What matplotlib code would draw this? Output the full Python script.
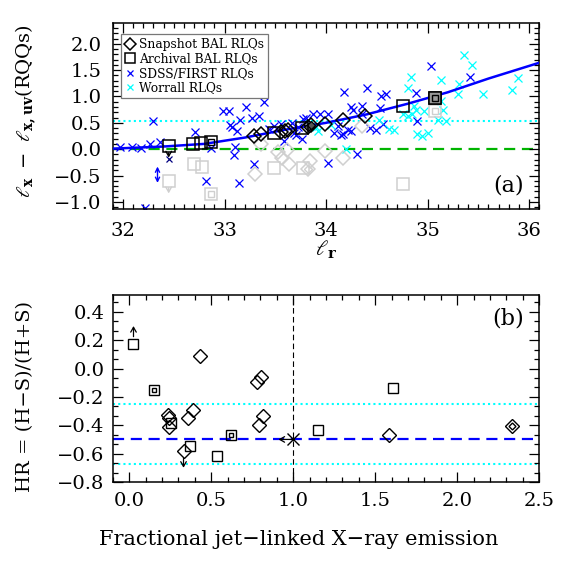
import matplotlib
matplotlib.use("Agg")
import matplotlib.pyplot as plt
from matplotlib.ticker import MultipleLocator

plt.rcParams["font.family"] = ["DejaVu Serif"]
plt.rcParams["mathtext.fontset"] = "dejavuserif"

# ---- panel (a): residual X-ray luminosity vs radio luminosity ----
snap_x = [33.29, 33.36, 33.56, 33.60, 33.63, 33.82, 33.85, 33.99, 34.17, 34.38]
snap_y = [0.25, 0.28, 0.32, 0.34, 0.37, 0.42, 0.45, 0.48, 0.55, 0.63]
snap_double = [5, 6]

arch_x = [32.45, 32.69, 32.77, 32.87, 33.49, 33.76, 34.76, 35.07]
arch_y = [0.06, 0.10, 0.12, 0.14, 0.31, 0.40, 0.81, 0.98]
arch_double = [3, 7]

# jet-subtracted (grey) versions
snap_grey_x = [33.30, 33.36, 33.53, 33.62, 33.57, 33.64, 33.84, 33.82, 33.99, 34.17, 34.35]
snap_grey_y = [-0.48, 0.10, -0.06, -0.01, -0.17, -0.29, -0.23, -0.37, -0.03, -0.17, 0.44]
snap_grey_double = [7]

arch_grey_x = [32.45, 32.70, 32.78, 32.87, 33.49, 33.77, 34.76, 35.07]
arch_grey_y = [-0.60, -0.28, -0.34, -0.86, -0.36, -0.36, -0.66, 0.72]
arch_grey_double = [3, 7]

sdss_x = [31.97, 32.09, 32.18, 32.27, 32.30, 32.36, 32.22, 32.71, 32.82, 32.87,
          32.99, 33.04, 33.21, 33.39, 33.15, 33.05, 33.07, 33.12, 33.10, 33.09,
          33.14, 33.29, 33.27, 33.34, 33.44, 33.49, 33.56, 33.59, 33.66, 33.68,
          33.70, 33.72, 33.76, 33.77, 33.80, 33.87, 33.94, 34.02, 34.08, 34.17,
          34.25, 34.43, 34.49, 34.02, 34.31, 34.18, 34.40, 34.54, 34.59, 34.25,
          34.27, 34.35, 34.53, 34.12, 34.22, 34.15, 34.56, 34.35, 34.89, 34.90,
          35.03, 35.42]
sdss_y = [0.04, 0.04, 0.02, 0.09, 0.53, 0.14, -1.12, 0.33, -0.61, 0.02,
          0.72, 0.72, 0.80, 0.90, 0.56, 0.45, 0.42, 0.34, 0.04, -0.12,
          -0.64, -0.29, 0.60, 0.63, 0.38, 0.44, 0.47, 0.15, 0.50, 0.30,
          0.26, 0.42, 0.20, 0.58, 0.60, 0.66, 0.67, 0.66, 0.31, 0.29,
          0.34, 0.40, 0.37, -0.26, -0.09, 1.09, 1.17, 1.01, 1.04, 0.80,
          0.75, 0.82, 0.79, 0.44, 0.37, 0.26, 0.47, 0.66, 1.07, 0.54,
          1.58, 1.37]

worrall_x = [35.36, 35.44, 34.84, 34.81, 35.13, 35.31, 35.30, 35.55, 35.89, 35.83,
             34.87, 34.89, 34.85, 35.13, 35.15, 35.10, 35.18, 34.97, 34.76, 34.90,
             34.95, 35.00, 34.67, 34.62, 34.52, 34.20, 33.92, 34.81, 33.85, 34.05,
             33.90]
worrall_y = [1.79, 1.59, 1.37, 1.16, 1.31, 1.24, 1.04, 1.04, 1.36, 1.12,
             0.82, 0.75, 0.66, 0.91, 0.75, 0.56, 0.54, 0.72, 0.66, 0.28,
             0.25, 0.31, 0.37, 0.38, 0.56, 0.00, 0.34, 0.63, 0.44, 0.45,
             0.42]

# limits in panel (a): (x, y_start, y_end)
lim_arch = [(32.45, 0.06, -0.16)]
lim_grey = [(32.45, -0.60, -0.84)]
lim_sdss = [(32.34, -0.33, -0.64)]
lim_sdss_end_x = [32.45]
lim_sdss_end_y = [-0.18]

fit_x = [31.9, 32.4, 32.8, 33.2, 33.6, 34.0, 34.4, 34.8, 35.2, 35.6, 36.1]
fit_y = [0.01, 0.05, 0.10, 0.22, 0.37, 0.50, 0.66, 0.86, 1.08, 1.34, 1.64]

rqq_level = 0.0
scatter_level = 0.54

# ---- panel (b): hardness ratio vs jet fraction ----
hr_snap_x = [0.433, 0.235, 0.240, 0.245, 0.357, 0.388, 0.331, 0.780, 0.805, 0.816,
             0.792, 1.582, 2.331]
hr_snap_y = [0.092, -0.325, -0.35, -0.41, -0.35, -0.29, -0.584, -0.097, -0.06, -0.337,
             -0.40, -0.466, -0.407]
hr_snap_double = [12]

hr_arch_x = [0.026, 0.149, 0.257, 0.373, 0.535, 0.623, 1.153, 1.608]
hr_arch_y = [0.176, -0.148, -0.383, -0.548, -0.62, -0.466, -0.43, -0.137]
hr_arch_double = [1, 5]

hr_cross_x = [1.0]
hr_cross_y = [-0.5]

hr_up = [(0.026, 0.176, 0.30)]
hr_down = [(0.331, -0.584, -0.70)]
hr_left = [(1.0, -0.5, 0.91)]

hr_mean = -0.5
hr_band = [-0.25, -0.67]
jet_equal = 1.0

GREY = "#cfcfcf"
BLUE = "#0000ff"
CYAN = "#00ffff"
GREEN = "#00b400"


def sub(vals, idx):
    return [vals[i] for i in idx]


fig = plt.figure(figsize=(5.67, 5.67), dpi=100)
ax1 = fig.add_axes([0.199, 0.631, 0.752, 0.328])
ax2 = fig.add_axes([0.199, 0.150, 0.752, 0.330])

# panel (a)
ax1.axhline(rqq_level, color=GREEN, ls=(0, (5, 3)), lw=1.6, zorder=1)
ax1.axhline(scatter_level, color=CYAN, ls=(0, (1, 1.5)), lw=1.5, zorder=1)

ax1.plot(sdss_x, sdss_y, "x", color=BLUE, ms=5.5, mew=0.9, zorder=2,
         label="SDSS/FIRST RLQs")
ax1.plot(worrall_x, worrall_y, "x", color=CYAN, ms=5.5, mew=0.9, zorder=2,
         label="Worrall RLQs")

ax1.plot(snap_grey_x, snap_grey_y, "D", mfc="none", mec=GREY, ms=7.5, mew=1.1, zorder=3)
ax1.plot(sub(snap_grey_x, snap_grey_double), sub(snap_grey_y, snap_grey_double), "D",
         mfc="none", mec=GREY, ms=4, mew=1.0, zorder=3)
ax1.plot(arch_grey_x, arch_grey_y, "s", mfc="none", mec=GREY, ms=8, mew=1.1, zorder=3)
ax1.plot(sub(arch_grey_x, arch_grey_double), sub(arch_grey_y, arch_grey_double), "s",
         mfc="none", mec=GREY, ms=4, mew=1.0, zorder=3)

ax1.plot(fit_x, fit_y, "-", color=BLUE, lw=1.8, zorder=4)

ax1.plot(snap_x, snap_y, "D", mfc="none", mec="black", ms=7.5, mew=1.1, zorder=5,
         label="Snapshot BAL RLQs")
ax1.plot(sub(snap_x, snap_double), sub(snap_y, snap_double), "D", mfc="#555555",
         mec="black", ms=4, mew=0.9, zorder=5)
ax1.plot(arch_x, arch_y, "s", mfc="none", mec="black", ms=8, mew=1.1, zorder=5,
         label="Archival BAL RLQs")
ax1.plot(sub(arch_x, arch_double), sub(arch_y, arch_double), "s", mfc="none",
         mec="black", ms=4, mew=1.0, zorder=5)
ax1.plot(arch_x[-1], arch_y[-1], "s", mfc="#9a9a9a", mec="black", ms=8, mew=1.1, zorder=5)
ax1.plot(arch_x[-1], arch_y[-1], "s", mfc="#9a9a9a", mec="black", ms=4, mew=1.0, zorder=6)

for x, y0, y1 in lim_arch:
    ax1.annotate("", xy=(x, y1), xytext=(x, y0), zorder=6,
                 arrowprops=dict(arrowstyle="->,head_length=0.35,head_width=0.2",
                                 color="black", lw=1.0, shrinkA=5, shrinkB=0))
for x, y0, y1 in lim_grey:
    ax1.annotate("", xy=(x, y1), xytext=(x, y0), zorder=3,
                 arrowprops=dict(arrowstyle="->,head_length=0.35,head_width=0.2",
                                 color=GREY, lw=1.0, shrinkA=5, shrinkB=0))
for x, y0, y1 in lim_sdss:
    ax1.annotate("", xy=(x, y1), xytext=(x, y0), zorder=2,
                 arrowprops=dict(arrowstyle="<->,head_length=0.3,head_width=0.15",
                                 color=BLUE, lw=1.0, shrinkA=0, shrinkB=0))
ax1.plot(lim_sdss_end_x, lim_sdss_end_y, "x", color="#000080", ms=5, mew=0.9, zorder=6)

ax1.set_xlim(31.9, 36.1)
ax1.set_ylim(-1.14, 2.39)
ax1.xaxis.set_major_locator(MultipleLocator(1))
ax1.xaxis.set_minor_locator(MultipleLocator(0.1))
ax1.yaxis.set_major_locator(MultipleLocator(0.5))
ax1.yaxis.set_minor_locator(MultipleLocator(0.1))
ax1.tick_params(axis="x", pad=9)
ax1.tick_params(axis="y", pad=8)
ax1.set_xlabel(r"$\ell_{\mathbf{r}}$", fontsize=15, labelpad=-1)
ax1.text(0.965, 0.07, "(a)", transform=ax1.transAxes, ha="right", va="bottom",
         fontsize=16)

h, l = ax1.get_legend_handles_labels()
order = [2, 3, 0, 1]
leg = ax1.legend([h[i] for i in order], [l[i] for i in order], loc="upper left",
                 bbox_to_anchor=(0.018, 0.94), fontsize=8.8, frameon=True,
                 fancybox=False, edgecolor="#777777", framealpha=1,
                 handlelength=0.9, handletextpad=0.3, labelspacing=0.12,
                 borderpad=0.3, borderaxespad=0.0, markerscale=0.85)
leg.get_frame().set_linewidth(0.9)

# panel (b)
ax2.axhline(hr_mean, color=BLUE, ls=(0, (5, 3)), lw=1.6, zorder=1)
for yb in hr_band:
    ax2.axhline(yb, color=CYAN, ls=(0, (1, 1.5)), lw=1.5, zorder=1)
ax2.axvline(jet_equal, color="black", ls=(0, (5, 3)), lw=0.8, zorder=1)

ax2.plot(hr_snap_x, hr_snap_y, "D", mfc="none", mec="black", ms=7, mew=1.0, zorder=3)
ax2.plot(sub(hr_snap_x, hr_snap_double), sub(hr_snap_y, hr_snap_double), "D",
         mfc="none", mec="black", ms=3.5, mew=1.0, zorder=3)
ax2.plot(hr_arch_x, hr_arch_y, "s", mfc="none", mec="black", ms=7.5, mew=1.0, zorder=3)
ax2.plot(sub(hr_arch_x, hr_arch_double), sub(hr_arch_y, hr_arch_double), "s",
         mfc="none", mec="black", ms=3.5, mew=1.0, zorder=3)
ax2.plot(hr_cross_x, hr_cross_y, "x", color="black", ms=8, mew=1.0, zorder=3)

for x, y0, y1 in hr_up + hr_down:
    ax2.annotate("", xy=(x, y1), xytext=(x, y0), zorder=4,
                 arrowprops=dict(arrowstyle="->,head_length=0.35,head_width=0.2",
                                 color="black", lw=0.9, shrinkA=5, shrinkB=0))
for y, x0, x1 in [(t[1], t[0], t[2]) for t in hr_left]:
    ax2.annotate("", xy=(x1, y), xytext=(x0, y), zorder=4,
                 arrowprops=dict(arrowstyle="->,head_length=0.35,head_width=0.2",
                                 color="black", lw=0.9, shrinkA=0, shrinkB=0))

ax2.set_xlim(-0.1, 2.5)
ax2.set_ylim(-0.8, 0.52)
ax2.xaxis.set_major_locator(MultipleLocator(0.5))
ax2.xaxis.set_minor_locator(MultipleLocator(0.1))
ax2.yaxis.set_major_locator(MultipleLocator(0.2))
ax2.yaxis.set_minor_locator(MultipleLocator(0.2 / 3))
ax2.tick_params(axis="x", pad=7)
ax2.tick_params(axis="y", pad=6)
ax2.text(0.965, 0.93, "(b)", transform=ax2.transAxes, ha="right", va="top",
         fontsize=16)

for ax in (ax1, ax2):
    ax.tick_params(which="both", direction="in", top=True, right=True,
                   labelsize=14, width=0.9)
    ax.tick_params(which="major", length=7)
    ax.tick_params(which="minor", length=3.5)
    for s in ax.spines.values():
        s.set_linewidth(1.1)

fig.text(0.045, 0.804, r"$\ell_{\mathbf{x}}\ -\ \ell_{\mathbf{x,uv}}$(RQQs)",
         rotation=90, ha="center", va="center", fontsize=14)
fig.text(0.045, 0.30, "HR = (H\u2212S)/(H+S)", rotation=90, ha="center",
         va="center", fontsize=14)
fig.text(0.527, 0.048, "Fractional jet\u2212linked X\u2212ray emission",
         ha="center", va="center", fontsize=15)

fig.savefig("out.png", dpi=100)
